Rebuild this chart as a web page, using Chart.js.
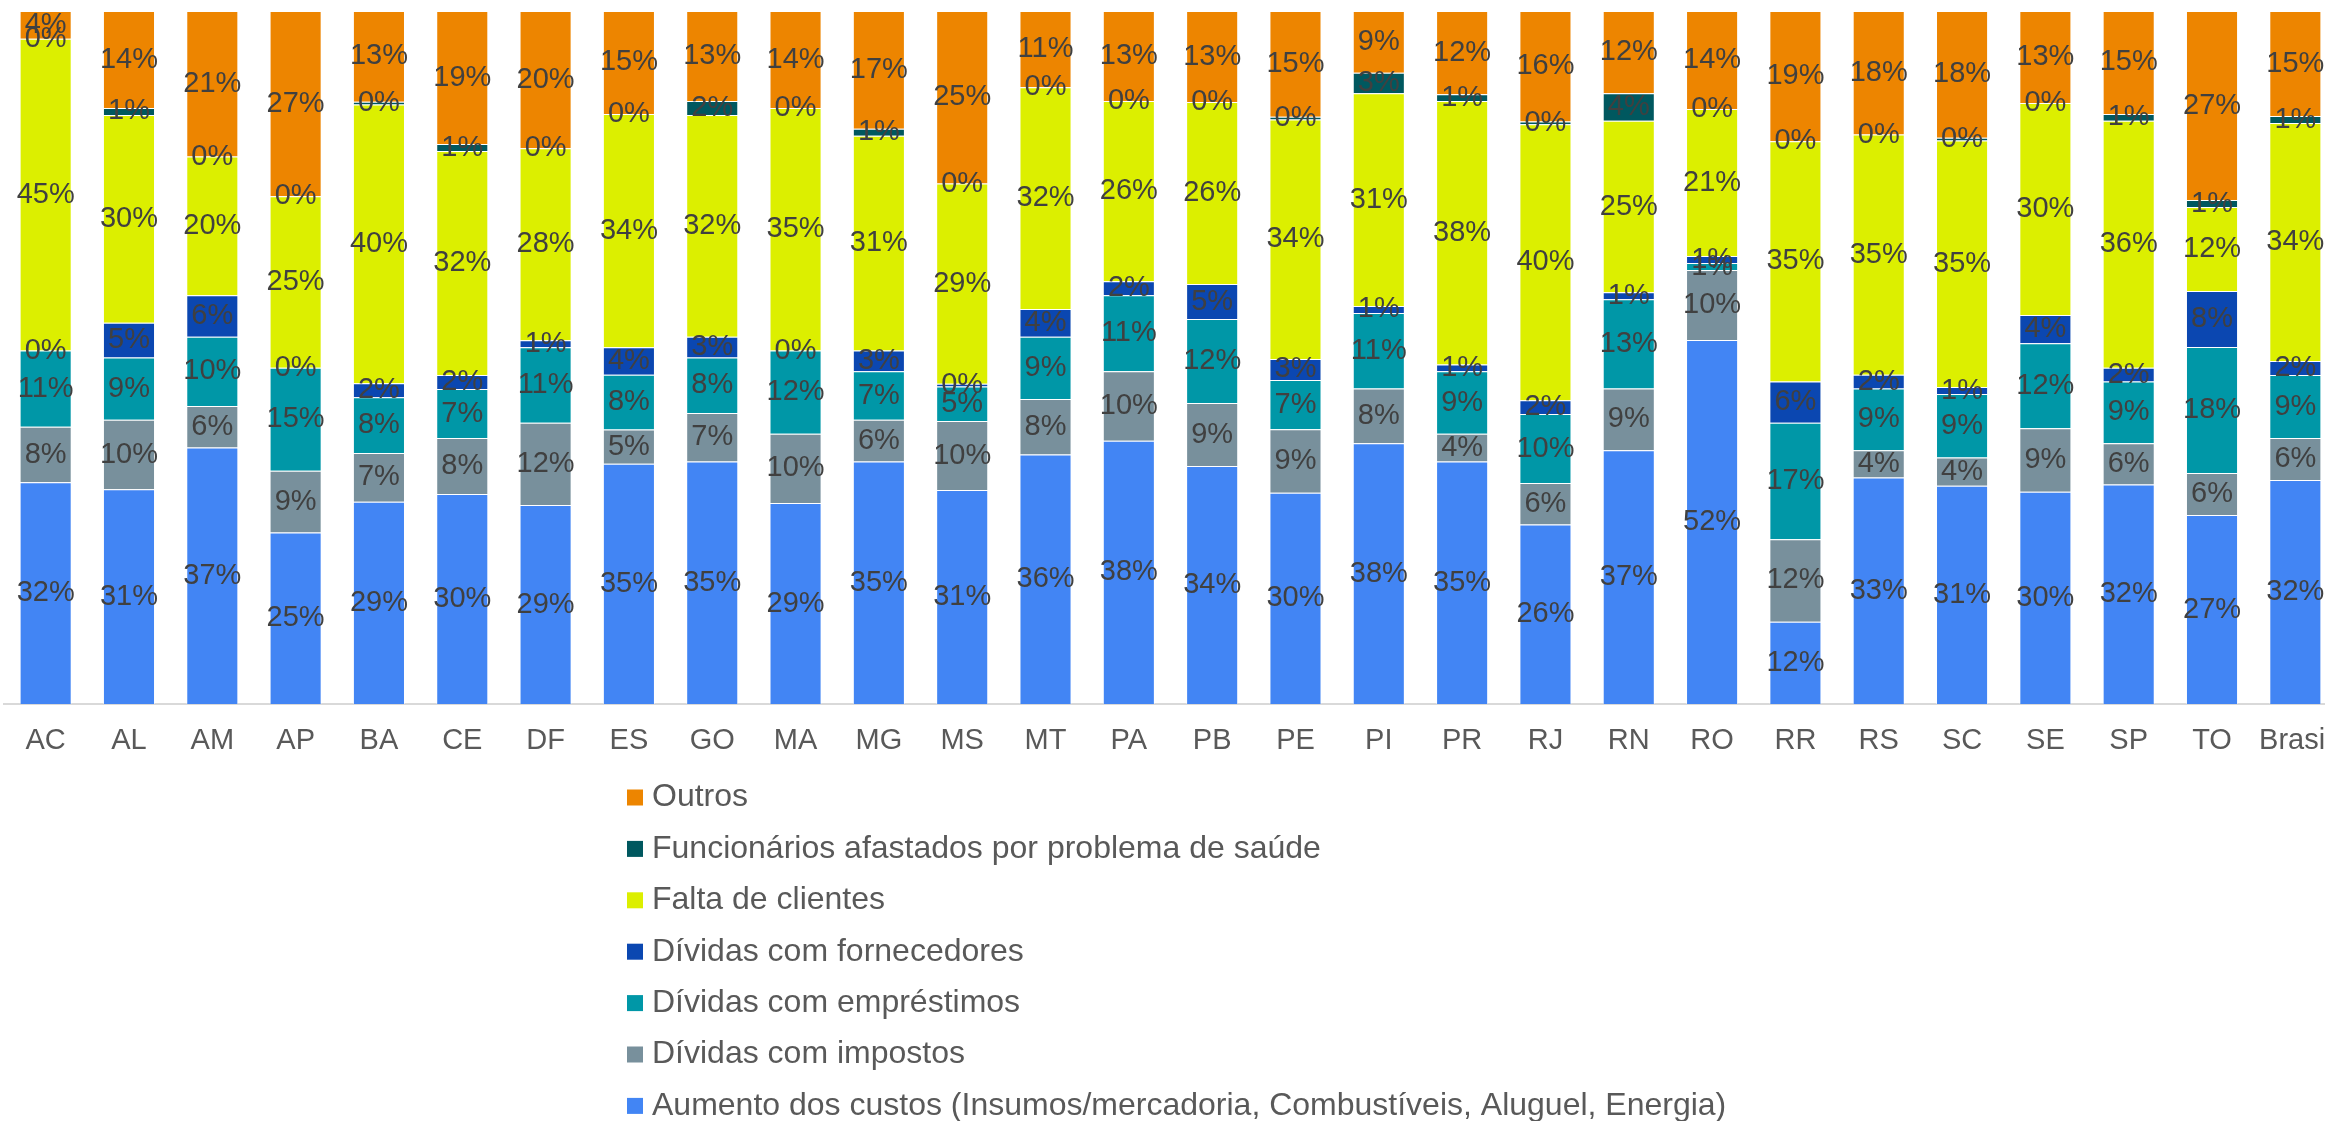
<!DOCTYPE html>
<html>
<head>
<meta charset="utf-8">
<script src="https://cdn.jsdelivr.net/npm/chart.js@4.4.1/dist/chart.umd.min.js"></script>
<style>
  html, body { margin: 0; padding: 0; overflow: hidden; background: #fff; }
  #wrap { width: 2337px; height: 1121px; position: relative; }
</style>
</head>
<body>
<div id="wrap"><canvas id="grafico"></canvas></div>
<script>
// categorias (UFs + Brasil)
const estados = ['AC','AL','AM','AP','BA','CE','DF','ES','GO','MA','MG','MS','MT','PA','PB','PE','PI','PR','RJ','RN','RO','RR','RS','SC','SE','SP','TO','Brasil'];

// % de respostas por motivo (0.4 = faixa fina rotulada 0%)
const aumentoCustos       = [32,31,37,25,29,30,29,35,35,29,35,31,36,38,34,30,38,35,26,37,52,12,33,31,30,32,27,32];
const dividasImpostos     = [ 8,10, 6, 9, 7, 8,12, 5, 7,10, 6,10, 8,10, 9, 9, 8, 4, 6, 9,10,12, 4, 4, 9, 6, 6, 6];
const dividasEmprestimos  = [11, 9,10,15, 8, 7,11, 8, 8,12, 7, 5, 9,11,12, 7,11, 9,10,13, 1,17, 9, 9,12, 9,18, 9];
const dividasFornecedores = [ 0, 5, 6, 0, 2, 2, 1, 4, 3, 0, 3,0.4,4, 2, 5, 3, 1, 1, 2, 1, 1, 6, 2, 1, 4, 2, 8, 2];
const faltaClientes       = [45,30,20,25,40,32,28,34,32,35,31,29,32,26,26,34,31,38,40,25,21,35,35,35,30,36,12,34];
const funcAfastados       = [ 0, 1, 0, 0,0.4,1, 0, 0, 2, 0, 1, 0, 0, 0, 0,0.4,3, 1,0.4,4, 0, 0, 0,0.4,0, 1, 1, 1];
const outros              = [ 4,14,21,27,13,19,20,15,13,14,17,25,11,13,13,15, 9,12,16,12,14,19,18,18,13,15,27,15];

const series = [
  { nome: 'Aumento dos custos (Insumos/mercadoria, Combustíveis, Aluguel, Energia)', valores: aumentoCustos, cor: '#4285F4' },
  { nome: 'Dívidas com impostos', valores: dividasImpostos, cor: '#78909C' },
  { nome: 'Dívidas com empréstimos', valores: dividasEmprestimos, cor: '#0097A7' },
  { nome: 'Dívidas com fornecedores', valores: dividasFornecedores, cor: '#0B47B1' },
  { nome: 'Falta de clientes', valores: faltaClientes, cor: '#DCEF00' },
  { nome: 'Funcionários afastados por problema de saúde', valores: funcAfastados, cor: '#00585F' },
  { nome: 'Outros', valores: outros, cor: '#ED8500' }
];

// barras 100% empilhadas
const totais = estados.map((_, i) => series.reduce((s, d) => s + d.valores[i], 0));

const fonte = '"Liberation Sans", Arial, sans-serif';

const rotulos = {
  id: 'rotulos',
  afterDatasetsDraw(chart) {
    const ctx = chart.ctx;
    ctx.save();
    ctx.font = '29px ' + fonte;
    ctx.fillStyle = '#404040';
    ctx.textAlign = 'center';
    ctx.textBaseline = 'middle';
    chart.data.datasets.forEach((ds, di) => {
      chart.getDatasetMeta(di).data.forEach((bar, i) => {
        const p = bar.getProps(['x', 'y', 'base'], true);
        ctx.fillText(Math.round(ds.valores[i]) + '%', p.x, (p.y + p.base) / 2);
      });
    });
    ctx.restore();
  }
};

const legenda = {
  id: 'legenda',
  afterDraw(chart) {
    const ctx = chart.ctx;
    ctx.save();
    ctx.font = '32px ' + fonte;
    ctx.textBaseline = 'middle';
    const itens = chart.data.datasets.slice().reverse();
    itens.forEach((ds, k) => {
      const y = 797.5 + k * 51.4;
      ctx.fillStyle = ds.backgroundColor;
      ctx.fillRect(627, y - 8, 16, 16);
      ctx.fillStyle = '#595959';
      ctx.fillText(ds.label, 652, y);
    });
    ctx.restore();
  }
};

new Chart(document.getElementById('grafico'), {
  type: 'bar',
  data: {
    labels: estados,
    datasets: series.map(s => ({
      label: s.nome,
      valores: s.valores,
      data: s.valores.map((v, i) => v / totais[i] * 100),
      backgroundColor: s.cor,
      borderColor: 'rgba(255,255,255,0.45)',
      borderWidth: 1,
      barPercentage: 0.625,
      categoryPercentage: 1
    }))
  },
  options: {
    responsive: true,
    maintainAspectRatio: false,
    animation: false,
    layout: { padding: { top: 11, left: 4, right: 0, bottom: 357 } },
    plugins: { legend: { display: false }, tooltip: { enabled: false } },
    scales: {
      x: {
        stacked: true,
        grid: { display: false },
        border: { display: true, color: '#D9D9D9', width: 2 },
        ticks: { color: '#595959', font: { size: 29, family: fonte }, padding: 12, maxRotation: 0, autoSkip: false },
        afterFit(axis) {
          axis.height = 60;
          axis.paddingLeft = 0;
          axis.paddingRight = 0;
        }
      },
      y: {
        stacked: true,
        display: false,
        min: 0,
        max: 100
      }
    }
  },
  plugins: [rotulos, legenda]
});
</script>
</body>
</html>
